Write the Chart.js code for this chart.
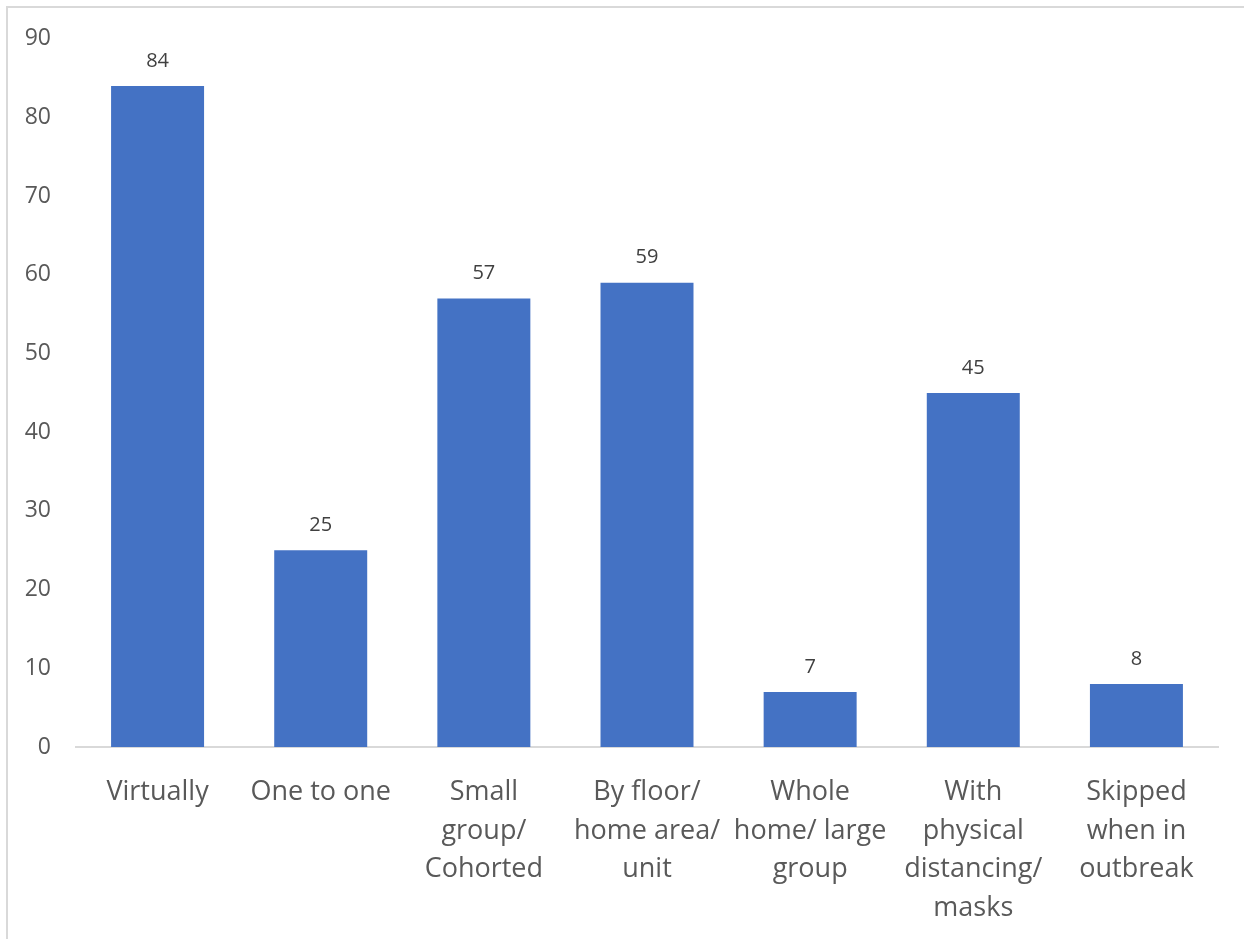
<!DOCTYPE html>
<html>
<head>
<meta charset="utf-8">
<script src="https://cdn.jsdelivr.net/npm/chart.js@4.4.1/dist/chart.umd.min.js"></script>
<style>
    html, body { margin: 0; padding: 0; background: #fff; overflow: hidden; }
    #wrap { position: relative; width: 1244px; height: 939px; }
    #frame { position: absolute; left: 6px; top: 6px; width: 1300px; height: 1000px;
             border-left: 2px solid #d9d9d9; border-top: 2px solid #d9d9d9; pointer-events: none; }
    canvas { position: absolute; left: 0; top: 0; }
</style>
</head>
<body>
<div id="wrap">
    <canvas id="barChart" width="1244" height="939"></canvas>
    <div id="frame"></div>
</div>
<script>
// Categories and counts
const categories = [
    ['Virtually'],
    ['One to one'],
    ['Small', 'group/', 'Cohorted'],
    ['By floor/', 'home area/', 'unit'],
    ['Whole', 'home/ large', 'group'],
    ['With', 'physical', 'distancing/', 'masks'],
    ['Skipped', 'when in', 'outbreak']
];
const counts = [84, 25, 57, 59, 7, 45, 8];
const yTicks = [0, 10, 20, 30, 40, 50, 60, 70, 80, 90];

const FONT = "'Open Sans', 'DejaVu Sans', sans-serif";

// Value labels above each bar
const valueLabels = {
    id: 'valueLabels',
    afterDatasetsDraw(chart) {
        const ctx = chart.ctx;
        const meta = chart.getDatasetMeta(0);
        ctx.save();
        ctx.font = '20px ' + FONT;
        ctx.fillStyle = '#404040';
        ctx.textAlign = 'center';
        ctx.textBaseline = 'middle';
        meta.data.forEach((bar, i) => {
            ctx.fillText(String(counts[i]), bar.x, bar.y - 25);
        });
        ctx.restore();
    }
};

const ctx = document.getElementById('barChart').getContext('2d');
new Chart(ctx, {
    type: 'bar',
    data: {
        labels: categories,
        datasets: [{
            data: counts,
            backgroundColor: '#4472C4',
            categoryPercentage: 1,
            barPercentage: 0.57
        }]
    },
    options: {
        responsive: false,
        animation: false,
        layout: { padding: { top: 33, right: 26, bottom: 0, left: 0 } },
        plugins: {
            legend: { display: false },
            tooltip: { enabled: false }
        },
        scales: {
            x: {
                grid: { display: false, drawTicks: false },
                border: { display: true, color: '#d9d9d9', width: 2 },
                ticks: {
                    color: '#595959',
                    font: { family: FONT, size: 27, lineHeight: 1.43 },
                    padding: 26,
                    maxRotation: 0,
                    autoSkip: false
                },
                afterFit(scale) { scale.height = 192; }
            },
            y: {
                min: 0,
                max: 90,
                afterBuildTicks(scale) { scale.ticks = yTicks.map(v => ({ value: v })); },
                grid: { display: false, drawTicks: false },
                border: { display: false },
                ticks: {
                    color: '#595959',
                    font: { family: FONT, size: 23 },
                    padding: 25
                },
                afterFit(scale) { scale.width = 76; }
            }
        }
    },
    plugins: [valueLabels]
});
</script>
</body>
</html>
